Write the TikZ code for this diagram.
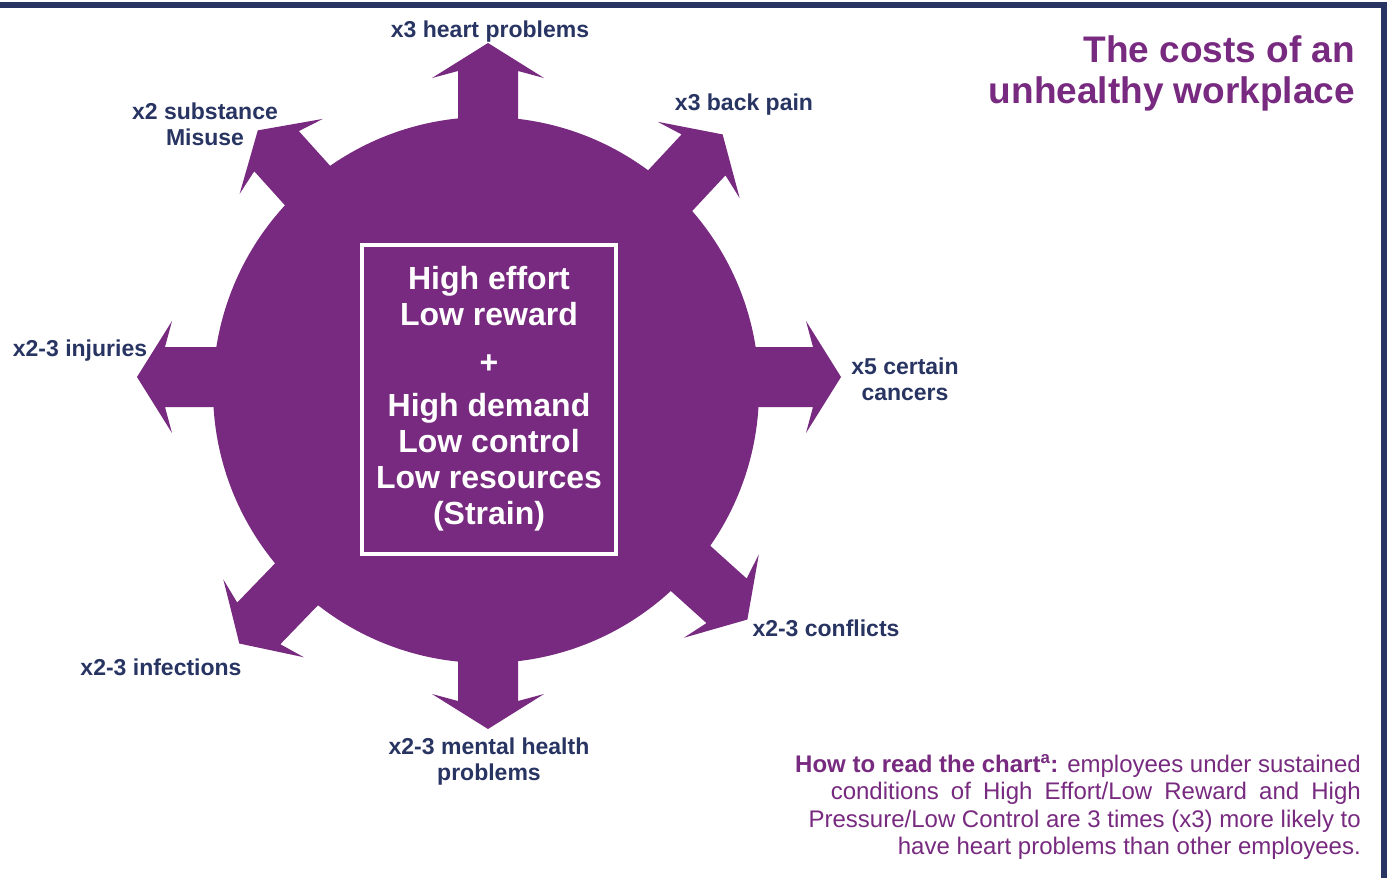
\documentclass[tikz,border=0pt]{standalone}
\usepackage{fontspec}
\setmainfont{Liberation Sans}
\usetikzlibrary{positioning}

\definecolor{strainpurple}{HTML}{772A7F}
\definecolor{framenavy}{HTML}{283462}

\tikzset{
    cost/.style={font=\bfseries\fontsize{23}{26}\selectfont, text=framenavy, align=center, inner sep=0pt},
    heading/.style={font=\bfseries\fontsize{37}{41}\selectfont, text=strainpurple, align=right, inner sep=0pt},
    howto/.style={font=\fontsize{24}{27.5}\selectfont, text=strainpurple, align=right, inner sep=0pt},
    strainbox/.style={draw=white, line width=4pt, text=white, align=center,
        minimum width=254pt, minimum height=309pt, inner sep=0pt,
        font=\bfseries\fontsize{32}{36}\selectfont},
    spike/.style={fill=strainpurple}
}

\begin{document}
\begin{tikzpicture}[x=1pt, y=-1pt]
\useasboundingbox (0,0) rectangle (1389,878);
\fill[white] (0,0) rectangle (1389,878);

% frame (top and right edge only)
\draw[framenavy, line width=6pt] (0,5) -| (1384,878);

% the eight arrows round the hub: angle / length / centre y
\foreach \ang/\len/\cy in {0/353/377, 47/344/386, 90/343/386, 132/344/386,
                           180/351/377, 226/358/386, 270/343/386, 318/349/386}{
    \begin{scope}[shift={(488,\cy)}, rotate=\ang]
        \fill[spike] (0,-30) -- (\len-28,-30) -- (\len-35,-56) -- (\len,0)
            -- (\len-35,56) -- (\len-28,30) -- (0,30) -- cycle;
    \end{scope}
}
\node[circle, fill=strainpurple, minimum size=546pt, inner sep=0pt] (hub) at (486,390) {};

\node[strainbox] (strain) at (489,399) {High effort\\Low reward\\[12pt]+\\[7pt]High demand\\Low control\\Low resources\\(Strain)};

% outcomes
\node[cost] (heart) at (490,32) {x3 heart problems};
\node[cost] (back) at (744,105) {x3 back pain};
\node[cost] (substance) at (205,124) {x2 substance\\Misuse};
\node[cost] (injuries) at (80,351) {x2-3 injuries};
\node[cost] (cancers) at (905,379) {x5 certain\\cancers};
\node[cost] (conflicts) at (826,628) {x2-3 conflicts};
\node[cost] (infections) at (161,667) {x2-3 infections};
\node[cost] (mental) at (489,762) {x2-3 mental health\\problems};

\node[heading, anchor=east] (title) at (1355,73) {The costs of an\\unhealthy workplace};

\node[howto, anchor=east] (legend) at (1361,807) {\textbf{How to read the chart\textsuperscript{a}:} employees under sustained\\
\makebox[530pt][s]{conditions of High Effort/Low Reward and High}\\
Pressure/Low Control are 3 times (x3) more likely to\\
have heart problems than other employees.};
\end{tikzpicture}
\end{document}
